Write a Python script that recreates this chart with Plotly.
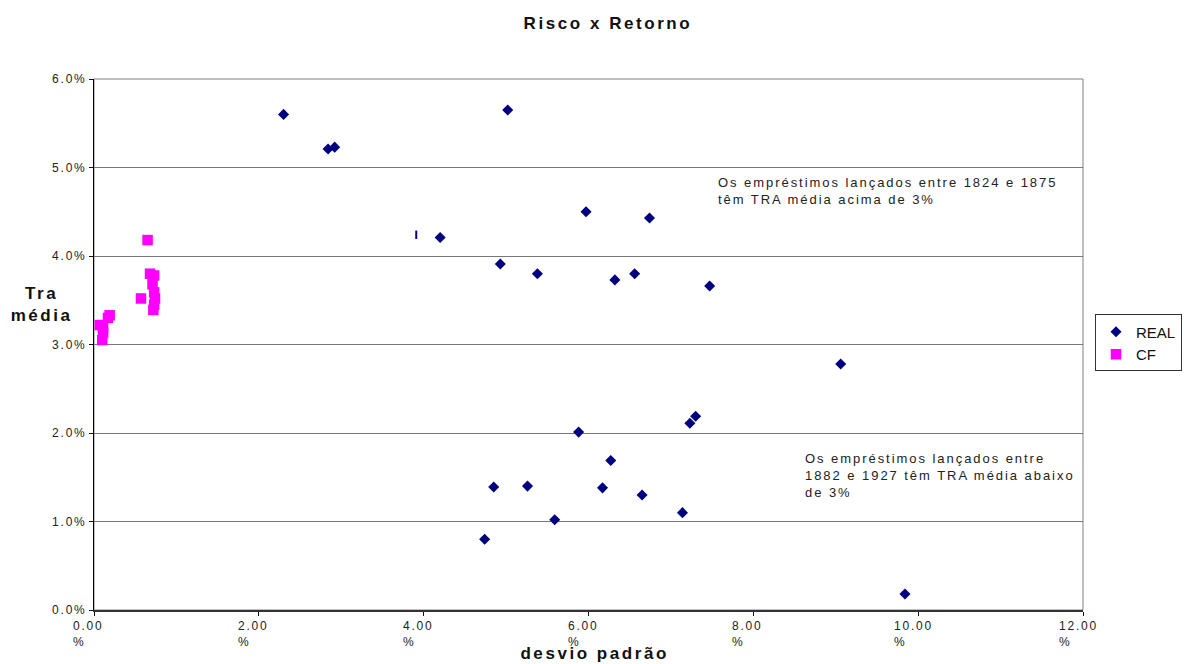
import plotly.graph_objects as go

# ---- data (desvio padrão %, TRA média %) ----
real_x = [2.30, 2.84, 2.92, 5.02, 4.20, 5.97, 6.74, 4.93, 5.38, 6.32, 6.56, 7.47,
          9.06, 5.88, 7.23, 7.30, 6.27, 4.85, 5.26, 6.17, 6.65, 5.59, 7.14, 4.74, 9.84]
real_y = [5.60, 5.21, 5.23, 5.65, 4.21, 4.50, 4.43, 3.91, 3.80, 3.73, 3.80, 3.66,
          2.78, 2.01, 2.11, 2.19, 1.69, 1.39, 1.40, 1.38, 1.30, 1.02, 1.10, 0.80, 0.18]

odd_x = [3.91]
odd_y = [4.24]

cf_x = [0.65, 0.68, 0.73, 0.71, 0.73, 0.74, 0.73, 0.72, 0.57,
        0.19, 0.17, 0.07, 0.11, 0.11, 0.10]
cf_y = [4.18, 3.80, 3.78, 3.68, 3.59, 3.52, 3.45, 3.39, 3.52,
        3.33, 3.30, 3.22, 3.19, 3.13, 3.05]

x_ticks = [0, 2, 4, 6, 8, 10, 12]
x_tick_labels = ["0.00<br>%", "2.00<br>%", "4.00<br>%", "6.00<br>%",
                 "8.00<br>%", "10.00<br>%", "12.00<br>%"]
y_ticks = [0, 1, 2, 3, 4, 5, 6]
y_tick_labels = ["0.0%", "1.0%", "2.0%", "3.0%", "4.0%", "5.0%", "6.0%"]

title_text = "Risco x Retorno"
x_title = "desvio padrão"
y_title = "Tra<br>média"
note_above = "Os empréstimos lançados entre 1824 e 1875<br>têm TRA média acima de 3%"
note_below = "Os empréstimos lançados entre<br>1882 e 1927 têm TRA média abaixo<br>de 3%"

FONT = "Liberation Sans, Arial, sans-serif"

fig = go.Figure()
fig.add_trace(go.Scatter(
    x=real_x, y=real_y, mode="markers", name="REAL",
    marker=dict(symbol="diamond", size=8.5, color="#000080", line=dict(width=0)),
))
fig.add_trace(go.Scatter(
    x=cf_x, y=cf_y, mode="markers", name="CF",
    marker=dict(symbol="square", size=10.5, color="#FF00FF", line=dict(width=0)),
))
fig.add_trace(go.Scatter(
    x=odd_x, y=odd_y, mode="markers", showlegend=False,
    marker=dict(symbol="line-ns-open", size=6, color="#000080",
                line=dict(width=2, color="#000080")),
))

annotations = []
for v, t in zip(x_ticks, x_tick_labels):
    annotations.append(dict(
        x=v, y=0, xref="x", yref="paper", text=t, showarrow=False,
        xanchor="center", yanchor="top", align="left", yshift=-7, xshift=-9,
        font=dict(family=FONT, size=12, color="#222"),
    ))
annotations += [
    dict(x=7.55, y=4.73, xref="x", yref="y", text=note_above, showarrow=False,
         xanchor="left", yanchor="middle", align="left",
         font=dict(family=FONT, size=13, color="#222")),
    dict(x=8.60, y=1.525, xref="x", yref="y", text=note_below, showarrow=False,
         xanchor="left", yanchor="middle", align="left",
         font=dict(family=FONT, size=13, color="#222")),
    dict(x=(42 - 94) / 989, y=(610 - 304) / 531, xref="paper", yref="paper",
         text="<b>" + y_title + "</b>",
         showarrow=False, xanchor="center", yanchor="middle", align="center",
         font=dict(family=FONT, size=17, color="#111")),
    dict(x=(594 - 94) / 989, y=0, xref="paper", yref="paper",
         text="<b>" + x_title + "</b>",
         showarrow=False, xanchor="center", yanchor="bottom", yshift=-55,
         font=dict(family=FONT, size=17, color="#111")),
]

fig.update_layout(
    width=1185, height=664,
    margin=dict(l=94, r=102, t=79, b=54, autoexpand=False),
    paper_bgcolor="white", plot_bgcolor="white",
    title=dict(text="<b>" + title_text + "</b>", x=0.513, xanchor="center",
               y=0.965, yanchor="middle",
               font=dict(family=FONT, size=17, color="#111")),
    font=dict(family=FONT, size=12, color="#222"),
    showlegend=True,
    legend=dict(x=(1095 - 94) / 989, xanchor="left", y=0.503, yanchor="middle",
                bordercolor="#333", borderwidth=1, bgcolor="white",
                font=dict(family=FONT, size=15, color="#111"),
                itemwidth=30, tracegroupgap=0),
    annotations=annotations,
    shapes=[dict(type="rect", xref="paper", yref="paper", x0=0, x1=1, y0=0, y1=1,
                 line=dict(color="#808080", width=1), layer="below")],
)
fig.update_xaxes(
    range=[0, 12], tickvals=x_ticks, showticklabels=False,
    showgrid=False, zeroline=False,
    showline=True, linecolor="#333", linewidth=2,
    ticks="outside", ticklen=4, tickcolor="#111", tickwidth=1,
)
fig.update_yaxes(
    range=[0, 6], tickvals=y_ticks, ticktext=y_tick_labels,
    showgrid=True, gridcolor="#777", gridwidth=1, zeroline=False,
    showline=True, linecolor="#000", linewidth=1,
    ticks="outside", ticklen=4, tickcolor="#111", tickwidth=1,
    tickfont=dict(family=FONT, size=12, color="#222"),
)

# page without body margin; the reference renders its text with wide letter spacing
spacing_js = """
document.body.style.margin = '0';
var gd = document.getElementById('{plot_id}');
gd.querySelectorAll('text').forEach(function(t){
  if (t.classList.contains('legendtext')) { return; }
  var fs = parseFloat(window.getComputedStyle(t).fontSize) || 12;
  t.style.letterSpacing = (fs * 0.15).toFixed(2) + 'px';
});
"""

fig.write_html("out.html", post_script=spacing_js,
               config={"displayModeBar": False})
